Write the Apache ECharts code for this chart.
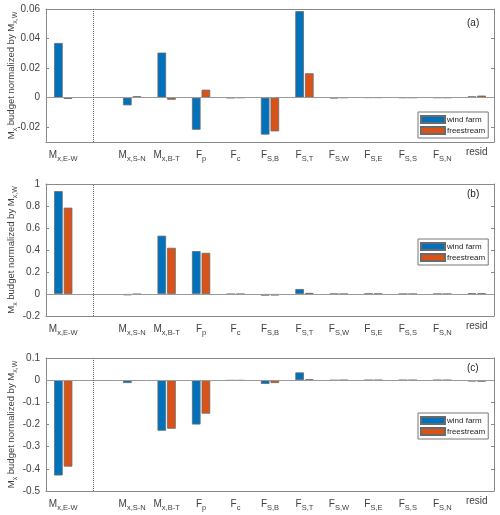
<!DOCTYPE html>
<html><head><meta charset="utf-8">
<script src="https://cdn.jsdelivr.net/npm/echarts@6/dist/echarts.min.js"></script>
<style>html,body{margin:0;padding:0;background:#fff}#c{width:500px;height:515px}</style>
</head><body><div id="c"></div>
<script>
// categories (blank slot separates M_x,E-W from the rest)
const categories = ['Mx,E-W', '', 'Mx,S-N', 'Mx,B-T', 'Fp', 'Fc', 'FS,B', 'FS,T', 'FS,W', 'FS,E', 'FS,S', 'FS,N', 'resid'];
const tickMain = ['M', '', 'M', 'M', 'F', 'F', 'F', 'F', 'F', 'F', 'F', 'F', 'resid'];
const tickSub  = ['x,E-W', '', 'x,S-N', 'x,B-T', 'p', 'c', 'S,B', 'S,T', 'S,W', 'S,E', 'S,S', 'S,N', ''];

// panel (a)
const windFarmA   = [0.037, null, -0.0052, 0.0305, -0.0217, -0.0002, -0.025, 0.0585, -0.0004, 0.0001, 0, 0, 0.0009];
const freestreamA = [-0.0008, null, 0.001, -0.0014, 0.0054, 0, -0.0228, 0.0165, 0, 0.0001, 0, 0, 0.0014];
// panel (b)
const windFarmB   = [0.935, null, -0.012, 0.53, 0.39, -0.002, -0.015, 0.045, 0.001, 0.003, 0, 0, 0.005];
const freestreamB = [0.785, null, -0.003, 0.42, 0.374, -0.001, -0.014, 0.01, 0, 0.002, 0, 0, 0.005];
// panel (c)
const windFarmC   = [-0.43, null, -0.013, -0.228, -0.2, -0.002, -0.017, 0.035, -0.001, 0, 0, 0, -0.006];
const freestreamC = [-0.39, null, -0.003, -0.219, -0.151, -0.002, -0.013, 0.004, 0, 0, 0, 0, -0.007];

const yTicksA = [-0.02, 0, 0.02, 0.04, 0.06];
const yTicksB = [-0.2, 0, 0.2, 0.4, 0.6, 0.8, 1];
const yTicksC = [-0.5, -0.4, -0.3, -0.2, -0.1, 0, 0.1];
const yRange = [[-0.03, 0.06], [-0.2, 1], [-0.5, 0.1]];
const panelLetters = ['(a)', '(b)', '(c)'];
const seriesNames = ['wind farm', 'freestream'];

const BLUE = '#0072BD', ORANGE = '#D95319';
const AX = '#8a8a8a', TXT = '#404040';
const FONT = '"Liberation Sans", Arial, sans-serif';

const panels = [
  {wf: windFarmA, fs: freestreamA, ticks: yTicksA, top: 9, h: 133, legTop: 112, letTop: 18},
  {wf: windFarmB, fs: freestreamB, ticks: yTicksB, top: 184, h: 132, legTop: 239, letTop: 189},
  {wf: windFarmC, fs: freestreamC, ticks: yTicksC, top: 358, h: 133, legTop: 413, letTop: 363}
];

const richLbl = {
  m: {fontSize: 10, color: TXT, fontFamily: FONT},
  s: {fontSize: 7.5, color: TXT, fontFamily: FONT, padding: [8, 0, 0, 0]}
};

const grid = [], xAxis = [], yAxis = [], series = [], legend = [], graphic = [];
panels.forEach((p, i) => {
  grid.push({left: 46, right: 6, top: p.top, height: p.h, containLabel: false, outerBoundsMode: 'none'});
  xAxis.push({
    type: 'category', gridIndex: i, data: categories, position: 'bottom',
    axisLine: {onZero: false, lineStyle: {color: AX, width: 1}},
    axisTick: {inside: true, alignWithLabel: true, length: 3, interval: 0, lineStyle: {color: AX}},
    axisLabel: {interval: 0, margin: 5, fontFamily: FONT, rich: richLbl,
      formatter: (v, idx) => {
        const k = categories.indexOf(v);
        if (k < 0 || tickMain[k] === '') return '';
        if (tickSub[k] === '') return '{m|' + tickMain[k] + '}';
        return '{m|' + tickMain[k] + '}{s|' + tickSub[k] + '}';
      }},
    splitLine: {show: false}
  });
  yAxis.push({
    type: 'value', gridIndex: i, min: yRange[i][0], max: yRange[i][1], position: 'left',
    name: '{m|M}{s|x} budget normalized by {m|M}{s|x,W}', nameLocation: 'middle', nameGap: 27, nameRotate: 90,
    nameMoveOverlap: false,
    nameTextStyle: {fontSize: 9.5, color: TXT, fontFamily: FONT, rich: {
      m: {fontSize: 9.5, color: TXT, fontFamily: FONT},
      s: {fontSize: 7, color: TXT, fontFamily: FONT, padding: [8, 0, 0, 0]}
    }},
    axisLine: {show: true, lineStyle: {color: AX, width: 1}},
    axisTick: {show: true, inside: true, length: 3, lineStyle: {color: AX}, customValues: p.ticks},
    axisLabel: {fontSize: 10, color: TXT, fontFamily: FONT, margin: 6, customValues: p.ticks,
      formatter: v => String(+v.toFixed(4))},
    splitLine: {show: false}
  });
});
// top and right box axes
panels.forEach((p, i) => {
  xAxis.push({
    type: 'category', gridIndex: i, data: categories, position: 'top',
    axisLine: {onZero: false, lineStyle: {color: AX, width: 1}},
    axisTick: {inside: true, alignWithLabel: true, length: 3, interval: 0, lineStyle: {color: AX}},
    axisLabel: {show: false}, splitLine: {show: false}
  });
  yAxis.push({
    type: 'value', gridIndex: i, min: yRange[i][0], max: yRange[i][1], position: 'right',
    axisLine: {show: true, lineStyle: {color: AX, width: 1}},
    axisTick: {show: true, inside: true, length: 3, lineStyle: {color: AX}, customValues: p.ticks},
    axisLabel: {show: false}, splitLine: {show: false}
  });
});

panels.forEach((p, i) => {
  [p.wf, p.fs].forEach((vals, j) => {
    const s = {
      type: 'bar', name: seriesNames[j], xAxisIndex: i, yAxisIndex: i, data: vals,
      barWidth: '25%', barGap: '12%',
      itemStyle: {color: j === 0 ? BLUE : ORANGE, borderColor: '#6a6a6a', borderWidth: 0.8},
      emphasis: {disabled: true}
    };
    if (j === 0) {
      s.markLine = {
        silent: true, symbol: 'none', label: {show: false}, animation: false,
        data: [
          {yAxis: 0, lineStyle: {type: 'solid', color: '#9a9a9a', width: 1}},
          {xAxis: 1, lineStyle: {type: 'dotted', color: '#666', width: 1}}
        ]
      };
    }
    series.push(s);
  });
  legend.push({
    data: seriesNames, orient: 'vertical', left: 418, top: p.legTop,
    itemWidth: 24, itemHeight: 7, itemGap: 2, padding: [3, 3, 3, 2],
    borderColor: '#777', borderWidth: 1, backgroundColor: '#fff',
    textStyle: {fontSize: 8, color: '#222', fontFamily: FONT, padding: [0, 0, 0, -3]},
    icon: 'rect', selectedMode: false
  });
  graphic.push({type: 'text', left: 467, top: p.letTop,
    style: {text: panelLetters[i], fontSize: 10, fill: '#222', fontFamily: FONT}});
});

const chart = echarts.init(document.getElementById('c'), null, {renderer: 'canvas'});
chart.setOption({
  animation: false, backgroundColor: '#fff',
  textStyle: {fontFamily: FONT},
  grid, xAxis, yAxis, series, legend, graphic
});
</script></body></html>
